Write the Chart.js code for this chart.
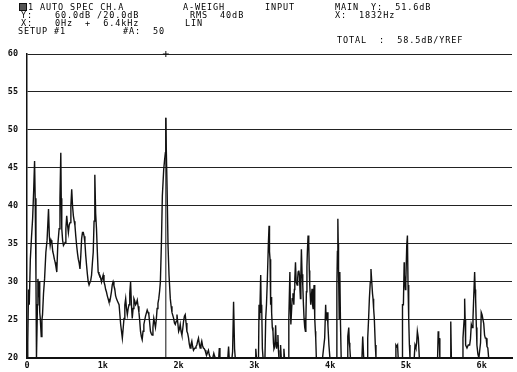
<!DOCTYPE html>
<html><head><meta charset="utf-8">
<script src="https://cdn.jsdelivr.net/npm/chart.js@4"></script>
<style>
html,body{margin:0;padding:0;background:#fff;}
#wrap{position:relative;width:517px;height:372px;overflow:hidden;}
canvas{position:absolute;left:0;top:0;}
.t{position:absolute;font-family:"DejaVu Sans Mono",monospace;font-size:8.5px;line-height:8px;letter-spacing:0.9px;color:#000;white-space:pre;}
.ic{position:absolute;width:6px;height:6px;border:1px solid #111;background:#555;}
</style></head><body>
<div id="wrap">
<canvas id="c" width="517" height="372"></canvas>
<div class="ic" style="left:19px;top:3px"></div>
<div class="t" style="left:28px;top:3px">1 AUTO SPEC CH.A</div>
<div class="t" style="left:183px;top:3px">A-WEIGH</div>
<div class="t" style="left:265px;top:3px">INPUT</div>
<div class="t" style="left:335px;top:3px">MAIN  Y:  51.6dB</div>
<div class="t" style="left:21px;top:11px">Y:</div>
<div class="t" style="left:55px;top:11px">60.0dB /20.0dB</div>
<div class="t" style="left:190px;top:11px">RMS  40dB</div>
<div class="t" style="left:335px;top:11px">X:  1832Hz</div>
<div class="t" style="left:21px;top:19px">X:</div>
<div class="t" style="left:55px;top:19px">0Hz  +  6.4kHz</div>
<div class="t" style="left:185px;top:19px">LIN</div>
<div class="t" style="left:18px;top:27px">SETUP #1</div>
<div class="t" style="left:123px;top:27px">#A:  50</div>
<div class="t" style="left:337px;top:36px">TOTAL  :  58.5dB/YREF</div>
</div>
<script>
const freqHz = [
0,10,20,30,44,60,74,88,100,108,118,125,131,138,144,152,160,168,175,188,197,205,218,232,249,265,284,295,306,317,328,340,350,361,371,382,393,406,424,435,446,452,459,470,481,492,502,513,524,535,546,557,568,579,590,601,612,623,633,644,655,666,677,688,699,710,721,732,743,754,764,775,786,797,808,819,830,841,852,863,874,885,895,906,917,928,939,950,961,972,983,994,1005,1016,1027,1038,1048,1059,1070,1081,1092,1103,1114,1125,1136,1147,1158,1169,1180,1193,
1215,1236,1258,1270,1280,1291,1302,1313,1324,1335,1346,1356,1367,1378,1389,1400,1411,1422,1433,1444,1455,1466,1477,1488,1498,1509,1520,1531,1542,1564,1586,1597,1608,1619,1629,1640,1651,1662,1673,1684,1695,1706,1717,1728,1739,1750,1760,1773,1786,1804,1815,1826,1832,1838,1848,1861,1874,1891,1902,1913,1924,1935,1946,1957,1968,1979,1990,2001,2011,2022,2033,2044,2055,2066,2077,2088,2099,2110,2121,2132,2142,2153,2164,2175,2186,2197,2208,2219,2230,2241,2252,2263,2274,2285,2296,2306,2317,2328,2339,2350,2361,2372,2383,2394,2405,2416,2430,
2451,2465,2473,2485,2530,2538,2546,2650,2660,2668,2705,2713,2726,2739,2748,3010,3019,3028,3055,3062,3070,3084,3091,3097,3106,3115,3140,3150,3160,3172,3185,3194,3200,3207,3215,3222,3228,3237,3246,3252,3259,3270,3281,3288,3294,3302,3311,3318,3324,3340,3346,3355,3380,3390,3398,3448,3455,3469,3475,3482,3490,3499,3510,3521,3528,3534,3543,3552,3565,3572,3578,3587,3595,3602,3608,3614,3621,3630,3639,3648,3656,3665,3674,3680,3687,3694,3700,3709,3718,3725,3731,3744,3752,3761,3768,3775,3782,3788,3797,3805,3810,3818,
3900,3928,3941,3948,3954,3962,3971,3984,3997,4080,4089,4096,4102,4107,4111,4120,4128,4137,4146,4225,4233,4246,4253,4260,4268,4420,4430,4443,4490,4496,4507,4518,4530,4539,4552,4559,4566,4574,4583,4596,4605,4860,4868,4880,4890,4898,
4950,4955,4967,4977,4980,4993,4999,5011,5020,5028,5037,5046,5054,5110,5120,5133,5142,5151,5164,5177,5418,5426,5433,5439,5448,5585,5592,5600,5745,5753,5768,5775,5782,5788,5806,5823,5841,5852,5863,5874,5885,5895,5907,5914,5920,5930,5937,5950,5963,5985,5994,6005,6016,6027,6038,6048,6059,6070,6081,6092,6400
];
const levelDb = [
20,22,29,27,33,36,38.3,42,45.9,41,30.9,20,20,27,30.4,28,30,26,25.2,22.8,25,25.7,28.5,30.4,33.9,35.5,39.6,36,34.8,35.5,35.2,34,33.6,33,32.6,32,31.3,34.8,37,41,47,41,37,35.5,34.8,35,35.2,37,38.7,37.5,36.5,37.5,37.8,40,42.2,40,38.7,38,37.4,36,34.8,33.8,33,32.5,31.7,33.5,35.7,36.5,36.5,36,35.2,33.5,32.2,31,30,29.6,29.6,30.2,30.9,32.5,33.9,38,44.1,39,37,34,31.3,31,30.9,30.5,30,30.5,30.9,30,29.6,29,28.7,28.2,27.8,27.4,27.4,28,28.7,29.6,30,29.5,29.1,28.2,27.8,27.5,
27,24.4,22.6,24,25.2,27,27.8,26.5,25.7,26.5,27,28.5,30,27,25.2,26.5,27.8,27.5,27,27.2,27.6,26.8,26,24.8,23.5,22.8,22.4,23.5,24.4,25.5,26.3,26,25.7,24.6,23.5,23.2,23,24,25.2,24.6,24,25,26.5,27.2,27.8,28.8,30,34.8,41.3,44.8,46,47,51.6,47.5,42.6,34.8,30.9,27.8,26.8,26,25.6,25.2,24.6,24.4,24.8,25.7,24.6,23.5,23.8,24.4,23.5,23,23.8,24.8,25.5,25.7,24.6,23.5,23.2,22.6,21.8,21.3,21.8,22.2,21.5,21,21.2,21.3,21.5,21.7,22.2,22.6,21.8,21.3,21.8,22.2,21.6,21.3,21.2,21,20.6,20.4,20.7,21,20.4,20.1,20,
20,20.6,20.3,20,20,21.3,20,20,21.5,20,20,20.8,27.4,21.2,20,20,21.2,20,20,27,25,30.9,26,27,21.2,20,20,25.2,27,30.4,35,37.4,34,33,27,28,26,24,23.5,22,21.2,21.5,24.3,22,21.2,22,23,21,20,20,21.7,20,20,21.2,20,20,25.2,31.3,27,24.4,26,27.8,28.5,27,29,30.4,32.6,30,29.6,30.5,31.3,31.5,30.9,29,27.8,31,34.3,31,29.6,27,25.2,24,23.5,25,28.7,32,34,36.1,35,31.5,29.6,27,28,29.1,27,26.5,28,29.6,25.2,23.5,22.6,20,
20,22.6,27,25,25.2,26,24.3,21.7,20,20,29.6,34,38.3,35,31.7,25.2,31.3,24.4,20,20,22.8,24,22,21.3,20,20,22.8,20,20,22.6,25,27.8,30,31.7,29.6,28.5,27.8,26.5,25.2,21.7,20,20,21.7,21.5,21.7,20,
20,27,27,32.6,30.9,29,30,34.8,36.1,29.6,25.2,21.7,20,20,21.7,21.3,22,23.5,22.6,20,20,23.5,22,22.6,20,20,24.8,20,20,22.6,25,27.8,25,21.7,21.3,21.7,21.7,22.5,24.4,24,25.2,28,31.3,29,27.8,24,21.7,20.5,20,22,26,25.7,25.7,24.5,23,22.6,22.6,21.5,21.3,20,20
];
const yTickValues = [20,25,30,35,40,45,50,55,60];
const xTickValues = [0,1000,2000,3000,4000,5000,6000];
const xTickLabels = ["0","1k","2k","3k","4k","5k","6k"];
const markerFreq = 1832;
const markerLevel = 51.6;
const yMin = 20, yMax = 60, xMax = 6400;

const tickFont = {family:"DejaVu Sans Mono", size:8.5, weight:'bold'};
new Chart(document.getElementById('c'), {
  type:'line',
  data:{datasets:[
    {data:freqHz.map((f,i)=>({x:f,y:levelDb[i]})), borderColor:'#111', borderWidth:1.4, pointRadius:0, tension:0},
    {data:[{x:markerFreq,y:yMin},{x:markerFreq,y:markerLevel}], borderColor:'#111', borderWidth:1, pointRadius:0},
    {data:[{x:markerFreq,y:yMax}], showLine:false, pointStyle:'cross', pointRadius:3, borderColor:'#111', borderWidth:1, clip:false}
  ]},
  options:{
    responsive:false, animation:false, devicePixelRatio:1,
    layout:{padding:{top:54,right:1,left:0,bottom:0}},
    plugins:{legend:{display:false}, tooltip:{enabled:false}},
    scales:{
      x:{type:'linear', min:0, max:xMax,
        afterBuildTicks:s=>{s.ticks = xTickValues.map(v=>({value:v}));},
        ticks:{callback:v=>xTickLabels[xTickValues.indexOf(v)], maxRotation:0, autoSkip:false, padding:3, font:tickFont, color:'#111'},
        grid:{display:false, drawTicks:false},
        border:{display:true, color:'#111', width:2},
        afterFit:s=>{s.height=14;}
      },
      y:{min:yMin, max:yMax,
        afterBuildTicks:s=>{s.ticks = yTickValues.map(v=>({value:v}));},
        ticks:{padding:9, font:tickFont, color:'#111'},
        grid:{color:'#222', lineWidth:1, drawTicks:false},
        border:{display:true, color:'#111', width:1.5},
        afterFit:s=>{s.width=27;}
      }
    }
  }
});
</script>
</body></html>
